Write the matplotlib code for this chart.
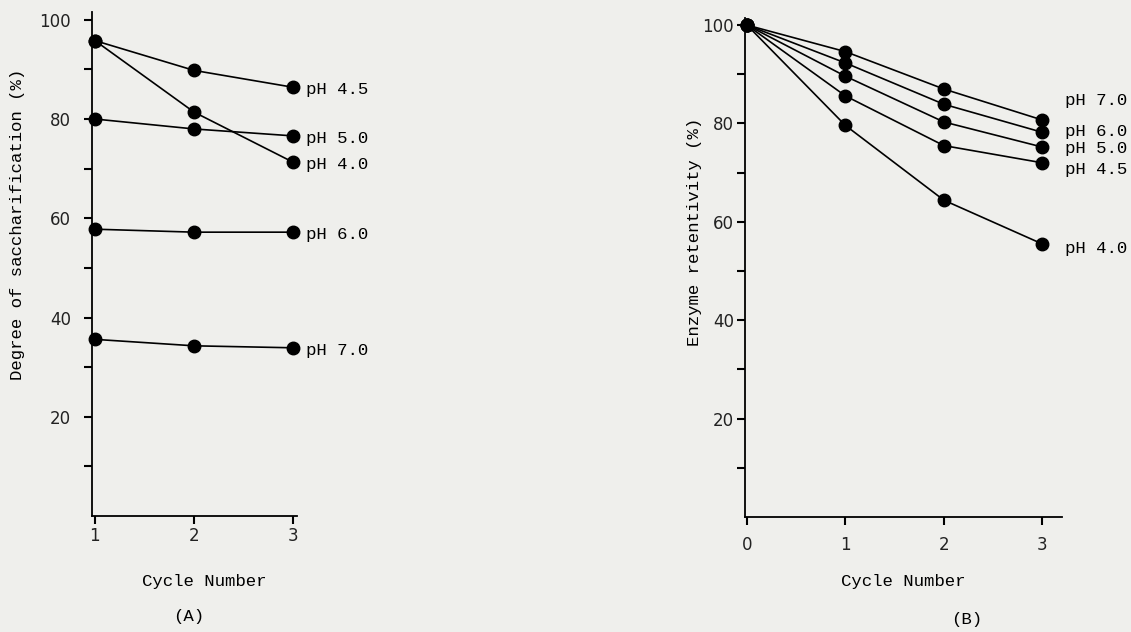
import matplotlib
matplotlib.use("Agg")
import matplotlib.pyplot as plt

# (A) degree of saccharification per cycle
cycles_a = [1, 2, 3]
labels_a = ["pH 4.5", "pH 5.0", "pH 4.0", "pH 6.0", "pH 7.0"]
sacch_a = [
    [95.8, 89.8, 86.4],
    [80.0, 78.0, 76.6],
    [95.8, 81.4, 71.3],
    [57.8, 57.2, 57.2],
    [35.6, 34.3, 33.9],
]

# (B) enzyme retentivity per cycle
cycles_b = [0, 1, 2, 3]
labels_b = ["pH 7.0", "pH 6.0", "pH 5.0", "pH 4.5", "pH 4.0"]
retent_b = [
    [100, 94.6, 87.0, 80.7],
    [100, 92.3, 83.9, 78.2],
    [100, 89.6, 80.3, 75.2],
    [100, 85.6, 75.5, 72.0],
    [100, 79.6, 64.4, 55.5],
]
label_y_b = [84.7, 78.4, 75.0, 70.6, 54.6]

paper = "#efefec"
mono = "Liberation Mono"
nums = "DejaVu Sans"


def style_axes(ax, xpad, ypad):
    for s in ["top", "right"]:
        ax.spines[s].set_visible(False)
    for s in ["left", "bottom"]:
        ax.spines[s].set_linewidth(1.3)
    ax.set_facecolor(paper)
    ax.set_ylim(0, 101.5)
    ax.set_yticks([20, 40, 60, 80, 100])
    ax.set_yticks([10, 30, 50, 70, 90], minor=True)
    ax.tick_params(axis="y", which="both", direction="out", length=6, width=1.5,
                   pad=ypad, labelsize=12)
    ax.tick_params(axis="x", direction="out", length=6, width=1.5, pad=xpad,
                   labelsize=12)
    for t in ax.get_yticklabels() + ax.get_xticklabels():
        t.set_fontfamily(nums)
        t.set_color("#222222")


def panel_a(ax):
    for vals, lab in zip(sacch_a, labels_a):
        ax.plot(cycles_a, vals, color="black", lw=1.2, marker="o", ms=9,
                clip_on=False, zorder=3)
        ax.text(cycles_a[-1] + 0.13, vals[-1] - 0.5, lab, fontfamily=mono,
                fontsize=12.5, va="center", ha="left")
    ax.set_xlim(0.97, 3.04)
    ax.set_xticks(cycles_a)
    style_axes(ax, xpad=2, ypad=9)
    ax.set_ylabel("Degree of saccharification (%)", fontfamily=mono, fontsize=12.5)
    ax.yaxis.set_label_coords(-0.327, 0.58)
    ax.set_xlabel("Cycle Number", fontfamily=mono, fontsize=12.5)
    ax.xaxis.set_label_coords(0.55, -0.115)
    ax.text(0.47, -0.20, "(A)", transform=ax.transAxes, fontfamily=mono,
            fontsize=12.5, ha="center", va="center")


def panel_b(ax):
    for vals, lab, ly in zip(retent_b, labels_b, label_y_b):
        ax.plot(cycles_b, vals, color="black", lw=1.2, marker="o", ms=9,
                clip_on=False, zorder=3)
        ax.text(cycles_b[-1] + 0.23, ly, lab, fontfamily=mono, fontsize=12.5,
                va="center", ha="left", clip_on=False)
    ax.set_xlim(-0.02, 3.2)
    ax.set_xticks(cycles_b)
    style_axes(ax, xpad=8, ypad=2)
    ax.set_ylabel("Enzyme retentivity (%)", fontfamily=mono, fontsize=12.5)
    ax.yaxis.set_label_coords(-0.136, 0.571)
    ax.set_xlabel("Cycle Number", fontfamily=mono, fontsize=12.5)
    ax.xaxis.set_label_coords(0.5, -0.115)
    ax.text(0.7, -0.205, "(B)", transform=ax.transAxes, fontfamily=mono,
            fontsize=12.5, ha="center", va="center")


fig = plt.figure(figsize=(11.31, 6.32), dpi=100, facecolor=paper)
ax1 = fig.add_axes([0.0813, 0.1835, 0.1813, 0.797])
ax2 = fig.add_axes([0.6587, 0.1820, 0.2803, 0.790])
panel_a(ax1)
panel_b(ax2)
fig.savefig("out.png", dpi=100, facecolor=paper)
